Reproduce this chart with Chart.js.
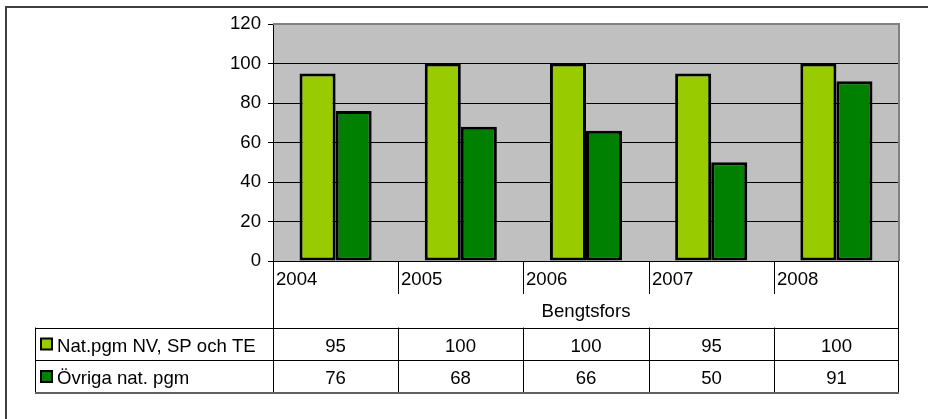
<!DOCTYPE html>
<html>
<head>
<meta charset="utf-8">
<script src="https://cdn.jsdelivr.net/npm/chart.js@4/dist/chart.umd.min.js"></script>
<style>
  html, body { margin: 0; padding: 0; background: #fff; }
  #c { display: block; }
</style>
</head>
<body>
<canvas id="c" width="928" height="419"></canvas>
<script>
// chart values
const years = ['2004', '2005', '2006', '2007', '2008'];
const natPgm = [95, 100, 100, 95, 100];
const ovrigaPgm = [76, 68, 66, 50, 91];
const seriesNames = ['Nat.pgm NV, SP och TE', 'Övriga nat. pgm'];
const groupLabel = 'Bengtsfors';
const yMin = 0, yMax = 120, yStep = 20;

const FAMILY = '"Liberation Sans", Arial, sans-serif';
const FONT = '18.6px ' + FAMILY;
const lightGreen = '#99CC00';
const darkGreen = '#008000';

// data table under the plot, drawn from the x scale
const tablePlugin = {
    id: 'dataTable',
    beforeDraw(chart) {
        const a = chart.chartArea;
        const ctx = chart.ctx;
        ctx.save();
        ctx.fillStyle = '#C0C0C0';
        ctx.fillRect(a.left, a.top, a.right - a.left, a.bottom - a.top);
        ctx.restore();
    },
    afterDraw(chart) {
        const a = chart.chartArea;
        const ctx = chart.ctx;
        const x = chart.scales.x;
        const n = years.length;
        const colW = (a.right - a.left) / n;
        const bounds = [];
        for (let i = 0; i <= n; i++) bounds.push(Math.round(x.getPixelForValue(0) - colW / 2 + i * colW));

        const catBottom = a.bottom + 33;
        const tableTop = a.bottom + 66.5;
        const rowH = 32.5;
        const tableLeft = 35;

        ctx.save();
        // plot frame top/right
        ctx.strokeStyle = '#808080';
        ctx.lineWidth = 2;
        ctx.beginPath();
        ctx.moveTo(a.left, a.top);
        ctx.lineTo(a.right, a.top);
        ctx.lineTo(a.right, a.bottom);
        ctx.stroke();

        // outer chart frame
        ctx.strokeStyle = '#404040';
        ctx.lineWidth = 2;
        ctx.beginPath();
        ctx.moveTo(6, 419);
        ctx.lineTo(6, 7);
        ctx.lineTo(928, 7);
        ctx.stroke();

        ctx.strokeStyle = '#000';
        ctx.lineWidth = 1;
        ctx.beginPath();
        // outer verticals of category block
        ctx.moveTo(bounds[0] + 0.5, a.bottom);
        ctx.lineTo(bounds[0] + 0.5, tableTop + 2 * rowH);
        ctx.moveTo(bounds[n] - 0.5, a.bottom);
        ctx.lineTo(bounds[n] - 0.5, tableTop + 2 * rowH);
        // inner dividers
        for (let i = 1; i < n; i++) {
            ctx.moveTo(bounds[i] + 0.5, a.bottom);
            ctx.lineTo(bounds[i] + 0.5, catBottom);
            ctx.moveTo(bounds[i] + 0.5, tableTop);
            ctx.lineTo(bounds[i] + 0.5, tableTop + 2 * rowH);
        }
        // rows
        for (let r = 0; r < 2; r++) {
            const y = Math.round(tableTop + r * rowH) + 0.5;
            ctx.moveTo(tableLeft, y);
            ctx.lineTo(bounds[n], y);
        }
        ctx.moveTo(tableLeft + 0.5, tableTop);
        ctx.lineTo(tableLeft + 0.5, tableTop + 2 * rowH);
        ctx.stroke();

        ctx.strokeStyle = '#606060';
        ctx.lineWidth = 2;
        ctx.beginPath();
        ctx.moveTo(tableLeft, Math.round(tableTop + 2 * rowH));
        ctx.lineTo(bounds[n], Math.round(tableTop + 2 * rowH));
        ctx.stroke();

        // texts
        ctx.fillStyle = '#000';
        ctx.font = FONT;
        ctx.textBaseline = 'alphabetic';
        ctx.textAlign = 'left';
        years.forEach((yr, i) => ctx.fillText(yr, bounds[i] + 3, a.bottom + 23.5));
        ctx.textAlign = 'center';
        ctx.fillText(groupLabel, (bounds[0] + bounds[n]) / 2, a.bottom + 55.5);

        chart.data.datasets.forEach((ds, r) => {
            const base = tableTop + r * rowH + 24;
            ctx.textAlign = 'center';
            ds.data.forEach((v, i) => ctx.fillText(String(v), (bounds[i] + bounds[i + 1]) / 2, base));
            // legend key
            ctx.fillStyle = ds.backgroundColor;
            ctx.fillRect(41, base - 13, 11, 11);
            ctx.strokeStyle = '#000';
            ctx.lineWidth = 2;
            ctx.strokeRect(41, base - 13, 11, 11);
            ctx.fillStyle = '#000';
            ctx.textAlign = 'left';
            ctx.fillText(ds.label, 57, base);
        });
        ctx.restore();
    }
};

new Chart(document.getElementById('c'), {
    type: 'bar',
    data: {
        labels: years,
        datasets: [
            { label: seriesNames[0], data: natPgm, backgroundColor: lightGreen },
            { label: seriesNames[1], data: ovrigaPgm, backgroundColor: darkGreen }
        ]
    },
    options: {
        responsive: false,
        animation: false,
        devicePixelRatio: 1,
        layout: { padding: { left: 0, top: 24, right: 29, bottom: 158 } },
        datasets: {
            bar: {
                borderColor: '#000',
                borderWidth: 3,
                borderSkipped: false,
                barPercentage: 1,
                categoryPercentage: 0.576
            }
        },
        plugins: {
            legend: { display: false },
            tooltip: { enabled: false }
        },
        scales: {
            x: { display: false },
            y: {
                min: yMin,
                max: yMax,
                ticks: {
                    stepSize: yStep,
                    color: '#000',
                    font: { family: FAMILY, size: 18.6 },
                    padding: 7
                },
                grid: { color: '#000', lineWidth: 1, tickLength: 5, drawTicks: true },
                border: { display: true, color: '#000', width: 1 },
                afterFit(scale) { scale.width = 273; }
            }
        }
    },
    plugins: [tablePlugin]
});
</script>
</body>
</html>
